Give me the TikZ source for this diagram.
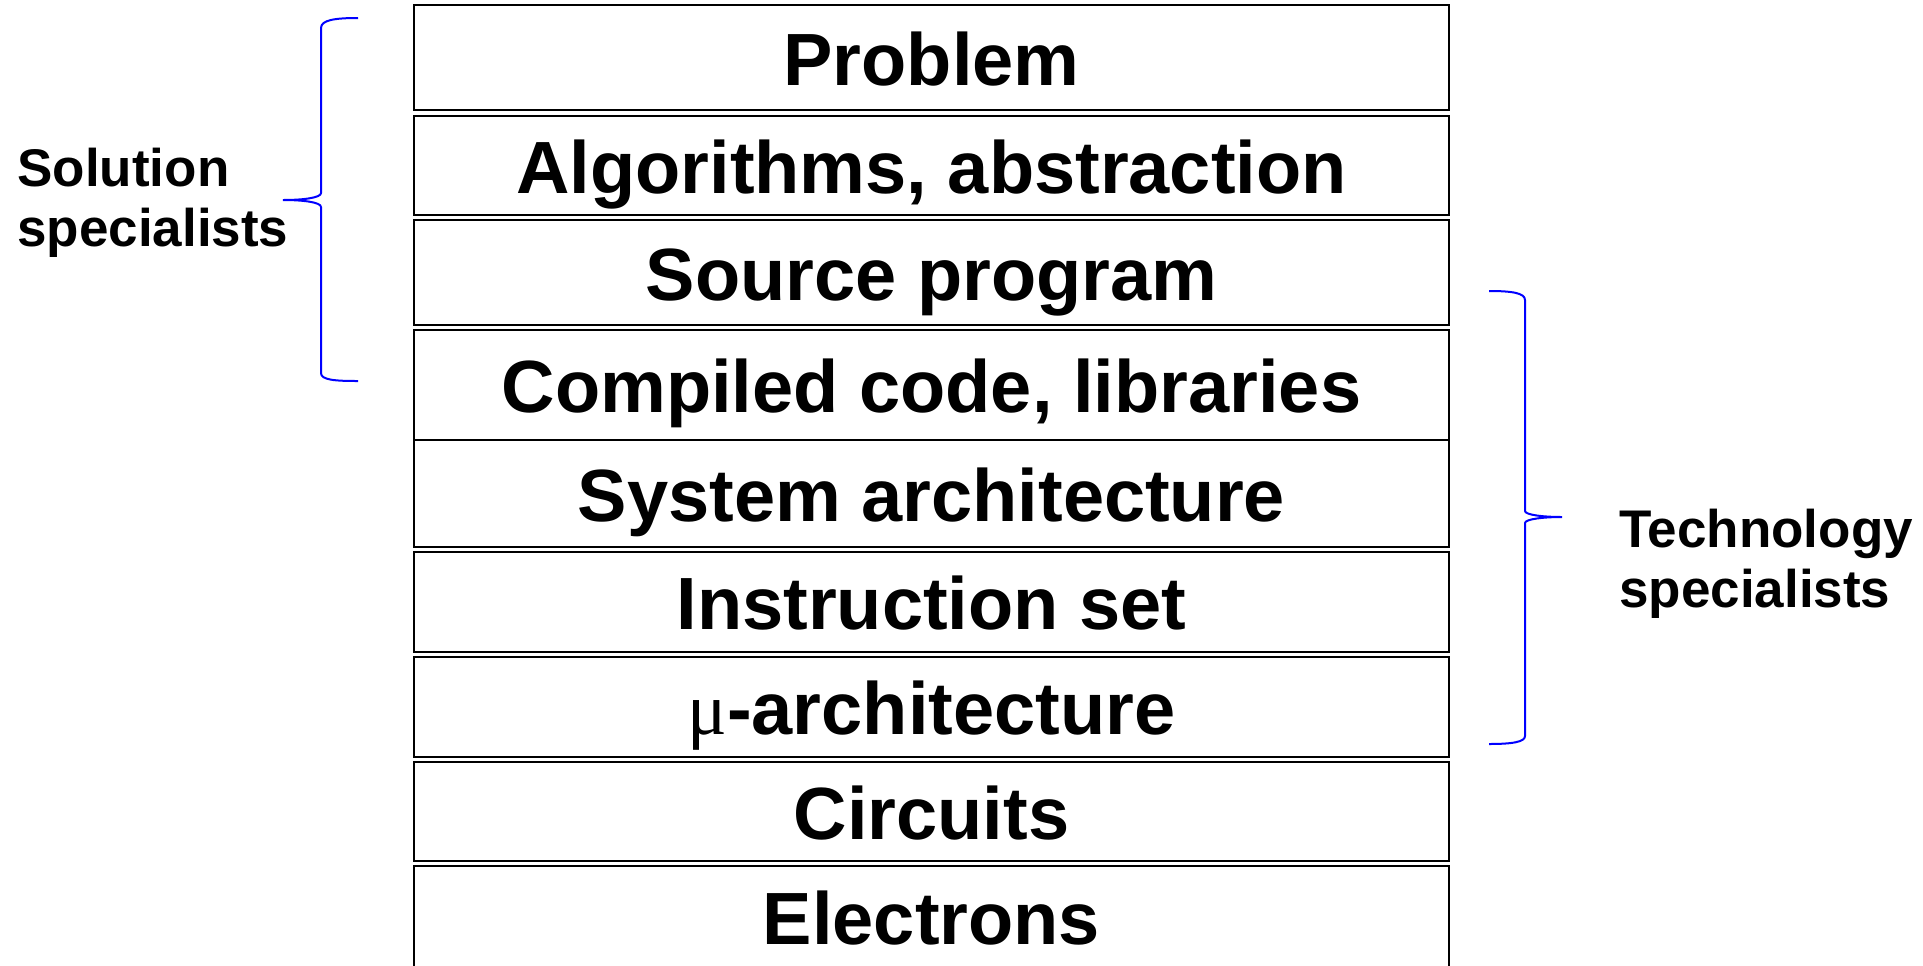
\documentclass[tikz,border=0pt]{standalone}
\usepackage{fontspec}
\setmainfont{Liberation Sans}
\newfontfamily\mufont{Liberation Serif}
\usetikzlibrary{positioning}
\tikzset{layer/.style = {draw, line width=1pt, outer sep=0, minimum width=517.5pt,
                         text height=27.5pt, text depth=0pt,
                         font=\fontsize{37}{40}\selectfont\bfseries}}
\tikzset{side/.style = {align=left, inner sep=0,
                        font=\fontsize{26.5}{30}\selectfont\bfseries}}
\tikzset{curly/.style = {line width=1pt, blue}}

\begin{document}
\begin{tikzpicture}[x=0.5pt, y=-0.5pt]
  \useasboundingbox (0, 0) rectangle (1923, 965);

  % the stack of levels, top to bottom
  \node [layer, minimum height=52.5pt] (problem) at (931.5, 57.5) {Problem};
  \node [layer, minimum height=49.5pt, below=3pt of problem] (algo) {Algorithms, abstraction};
  \node [layer, minimum height=52.5pt, below=2.5pt of algo] (source) {Source program};
  \node [layer, minimum height=55pt, below=2.5pt of source] (compiled) {Compiled code, libraries};
  \node [layer, minimum height=53.5pt, below=0pt of compiled] (system) {System architecture};
  \node [layer, minimum height=50pt, below=2.5pt of system] (isa) {Instruction set};
  \node [layer, minimum height=50pt, below=2.5pt of isa] (micro) {{\mufont\mdseries μ}-architecture};
  \node [layer, minimum height=49.5pt, below=2.5pt of micro] (circuits) {Circuits};
  \node [layer, minimum height=51pt, below=2.5pt of circuits] (electrons) {Electrons};

  % who works where
  \draw [curly] (358, 18) .. controls (335, 18) and (321, 20) .. (321, 28)
    -- (321, 193) .. controls (321, 198) and (302, 200) .. (283, 200)
    .. controls (302, 200) and (321, 202) .. (321, 207)
    -- (321, 373) .. controls (321, 380) and (335, 381) .. (358, 381);
  \node [side, anchor=base west] (solution) at (17, 246) {Solution\\specialists};

  \draw [curly] (1489, 291) .. controls (1512, 291) and (1525, 293) .. (1525, 300)
    -- (1525, 511) .. controls (1525, 515) and (1544, 517) .. (1562, 517)
    .. controls (1544, 517) and (1525, 519) .. (1525, 523)
    -- (1525, 736) .. controls (1525, 742) and (1512, 744) .. (1489, 744);
  \node [side, anchor=base west] (technology) at (1619, 607) {Technology\\specialists};
\end{tikzpicture}
\end{document}
